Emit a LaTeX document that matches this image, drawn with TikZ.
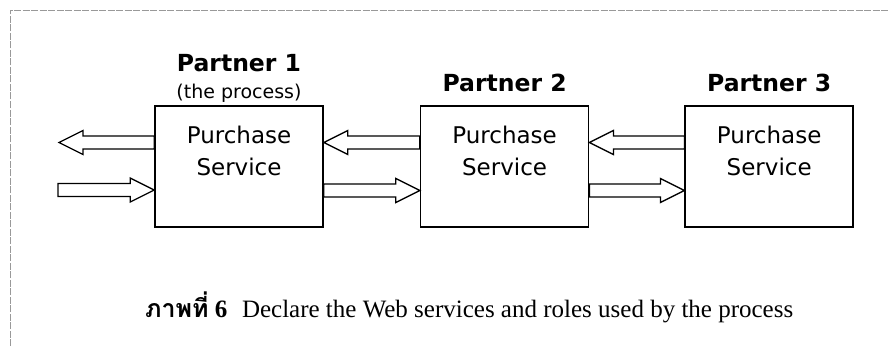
\documentclass[tikz,border=0pt]{standalone}
\usepackage{fontspec}
\setmainfont{Liberation Serif}
\newfontfamily\boxfont{DejaVu Sans}
\newfontfamily\thaifont[Script=Thai]{Loma}
\usepackage{tikz}
\usetikzlibrary{positioning}
\usetikzlibrary{calc}

% hollow block arrow from a tail point to a tip point (same height)
\newcommand{\hollowarrow}[2]{%
  \draw[flowline] let \p1=(#1), \p2=(#2), \n1={sign(\x2-\x1)} in
    (\x1,\y1+6.5) -- (\x2-24*\n1,\y1+6.5) -- (\x2-24*\n1,\y1+12) -- (\x2,\y1)
    -- (\x2-24*\n1,\y1-12) -- (\x2-24*\n1,\y1-6.5) -- (\x1,\y1-6.5) -- cycle;}

\begin{document}
\begin{tikzpicture}[x=1pt, y=1pt,
    svc/.style={draw, line width=1.6pt, minimum width=168pt, minimum height=121pt, inner sep=0pt},
    svctext/.style={font=\boxfont\fontsize{23}{32}\selectfont, align=center, inner sep=0pt},
    partner/.style={font=\boxfont\bfseries\fontsize{23.5}{27}\selectfont, inner sep=0pt},
    role/.style={font=\boxfont\fontsize{19}{23}\selectfont, inner sep=0pt},
    flowline/.style={line width=1.3pt, line join=miter},
    frameline/.style={gray!80, line width=0.6pt, dash pattern=on 7pt off 1.5pt}]
      \useasboundingbox (0,0) rectangle (890,346);
      \draw[frameline] (10,0) |- (888,336);

      \node(s1) [svc] at (239,179.5) {};
      \node(s2) [svc, right=96pt of s1] {};
      \node(s3) [svc, right=95pt of s2] {};
      \node(t1) [svctext] at ([yshift=16pt]s1.center) {Purchase\\Service};
      \node(t2) [svctext] at ([yshift=16pt]s2.center) {Purchase\\Service};
      \node(t3) [svctext] at ([yshift=16pt]s3.center) {Purchase\\Service};

      \node(r1) [role, above=3pt of s1] {(the process)};
      \node(p1) [partner, above=11pt of r1] {Partner 1};
      \node(p2) [partner, above=13pt of s2] {Partner 2};
      \node(p3) [partner, above=13pt of s3] {Partner 3};

      \coordinate(out) at (59,204);
      \coordinate(in) at (58,156);

      \hollowarrow{[yshift=24pt]s1.west}{out}
      \hollowarrow{[yshift=24pt]s2.west}{[yshift=24pt]s1.east}
      \hollowarrow{[yshift=24pt]s3.west}{[yshift=24pt]s2.east}
      \hollowarrow{in}{[yshift=-24pt]s1.west}
      \hollowarrow{[yshift=-24pt]s1.east}{[yshift=-24pt]s2.west}
      \hollowarrow{[yshift=-24pt]s2.east}{[yshift=-24pt]s3.west}

      \node(cap) [anchor=base west, inner sep=0pt, font=\fontsize{25}{30}\selectfont] at (145,29)
        {{\thaifont\bfseries ภาพที่} \textbf{6}\,\, Declare the Web services and roles used by the process};
\end{tikzpicture}
\end{document}
